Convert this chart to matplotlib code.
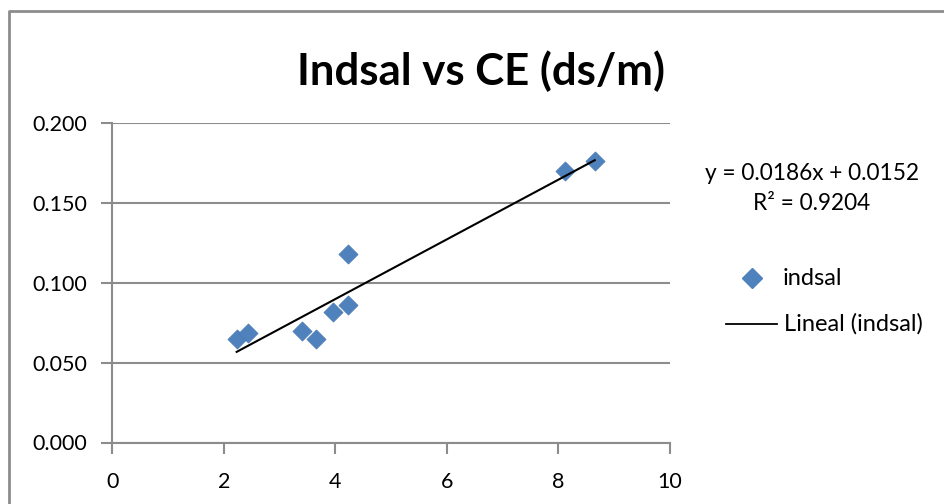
import numpy as np
import matplotlib
matplotlib.use("Agg")
import matplotlib.pyplot as plt
from matplotlib.lines import Line2D

ce = [2.23, 2.44, 3.41, 3.66, 3.96, 4.22, 4.23, 8.11, 8.65]
indsal = [0.065, 0.0685, 0.070, 0.065, 0.082, 0.086, 0.118, 0.170, 0.1764]
x_ticks = [0, 2, 4, 6, 8, 10]
y_ticks = [0.000, 0.050, 0.100, 0.150, 0.200]
title = "Indsal vs CE (ds/m)"
eq_line1 = "y = 0.0186x + 0.0152"
eq_line2 = "R² = 0.9204"
series_name = "indsal"
trend_name = "Lineal (indsal)"

plt.rcParams['font.family'] = ['Lato', 'DejaVu Sans']

W, H = 944, 504
fig = plt.figure(figsize=(W / 100, H / 100), dpi=100)
ax = fig.add_axes([112.3 / W, 1 - 442.5 / H, (670 - 112.3) / W, (442.5 - 123.3) / H])

gray = '#8c8c8c'
blue = '#4f81bd'

ax.scatter(ce, indsal, marker='D', s=95, color=blue, edgecolors='#4a7ab5', linewidths=0.5, zorder=3)

coef = np.polyfit(ce, indsal, 1)
xs = np.array([min(ce), max(ce)])
ax.plot(xs, np.polyval(coef, xs), color='black', lw=1.5, zorder=4)

ax.set_xlim(0, 10)
ax.set_ylim(0, 0.2)
ax.set_xticks(x_ticks)
ax.set_xticklabels([str(t) for t in x_ticks])
ax.set_yticks(y_ticks)
ax.set_yticklabels([f"{t:.3f}" for t in y_ticks])
ax.yaxis.grid(True, color=gray, lw=1.5)
ax.set_axisbelow(True)
for s in ['top', 'right']:
    ax.spines[s].set_visible(False)
for s in ['left', 'bottom']:
    ax.spines[s].set_color(gray)
    ax.spines[s].set_linewidth(1.5)
ax.tick_params(axis='both', colors=gray, length=8, width=1.5, labelsize=15.5, labelcolor='black')
ax.tick_params(axis='x', pad=13)
ax.tick_params(axis='y', pad=10)

fig.text(481 / W, 1 - 71 / H, title, ha='center', va='center', fontsize=31.5, fontweight='bold')
fig.text(812 / W, 1 - 173 / H, eq_line1, ha='center', va='center', fontsize=16.3)
fig.text(812 / W, 1 - 204 / H, eq_line2, ha='center', va='center', fontsize=16.3)

# legend
fig.add_artist(Line2D([751.7 / W], [1 - 278.3 / H], marker='D', markersize=10, color=blue, linestyle='none'))
fig.text(783 / W, 1 - 278.3 / H, series_name, ha='left', va='center', fontsize=17)
fig.add_artist(Line2D([725.7 / W, 777.3 / W], [1 - 324.3 / H, 1 - 324.3 / H], color='black', lw=1.3))
fig.text(784 / W, 1 - 324.3 / H, trend_name, ha='left', va='center', fontsize=17)

# chart border
fig.add_artist(Line2D([9 / W, 9 / W, 1.0], [0.0, 1 - 10.5 / H, 1 - 10.5 / H], color=gray, lw=2))

fig.savefig("out.png", dpi=100)
